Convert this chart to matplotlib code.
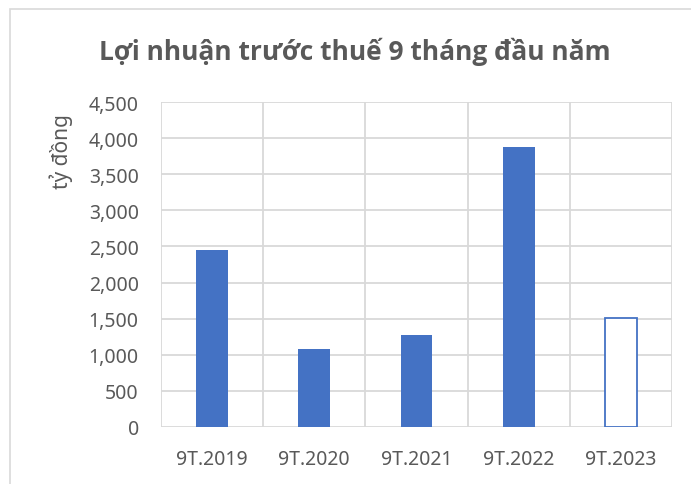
import matplotlib
matplotlib.use('Agg')
import matplotlib.pyplot as plt
from matplotlib.patches import Rectangle
from matplotlib.ticker import FuncFormatter, MultipleLocator

categories = ['9T.2019', '9T.2020', '9T.2021', '9T.2022', '9T.2023']
profit = [2455, 1080, 1278, 3880, 1509]
filled = [True, True, True, True, False]

title = 'Lợi nhuận trước thuế 9 tháng đầu năm'
ylabel = 'tỷ đồng'

plt.rcParams['font.family'] = ['Noto Sans', 'DejaVu Sans']
text_grey = '#595959'
grid_grey = '#d9d9d9'
blue = '#4472C4'

fig = plt.figure(figsize=(6.91, 4.85), dpi=100)
# chart frame (left and top edges visible, the rest runs off the picture)
fig.patches.append(Rectangle((10 / 691, -0.1), 1.2, (475 / 485) + 0.1,
                             transform=fig.transFigure, fill=False,
                             ec=grid_grey, lw=1.2))

ax = fig.add_axes([161 / 691, 57 / 485, 511 / 691, 325 / 485])
x = list(range(len(categories)))
for xi, v, f in zip(x, profit, filled):
    if f:
        ax.bar(xi, v, width=0.31, color=blue, zorder=3)
    else:
        ax.bar(xi, v, width=0.31, facecolor='white', edgecolor=blue,
               lw=1.3, zorder=3)

ax.set_xlim(-0.5, len(categories) - 0.5)
ax.set_ylim(0, 4500)
ax.yaxis.set_major_locator(MultipleLocator(500))
ax.yaxis.set_major_formatter(FuncFormatter(lambda v, p: f'{int(v):,}'))
ax.set_xticks(x)
ax.set_xticklabels(categories)
ax.set_xticks([i - 0.5 for i in range(len(categories) + 1)], minor=True)

ax.grid(axis='y', which='major', color=grid_grey, lw=1.3, zorder=0)
ax.grid(axis='x', which='minor', color=grid_grey, lw=1.3, zorder=0)
for s in ax.spines.values():
    s.set_visible(False)
ax.tick_params(which='both', length=0)
ax.tick_params(axis='y', labelsize=14, labelcolor=text_grey, pad=16)
ax.tick_params(axis='x', labelsize=14, labelcolor=text_grey, pad=16)

ax.set_ylabel(ylabel, fontsize=15, color=text_grey)
ax.yaxis.set_label_coords(-0.172, 0.85)

fig.text(355 / 691, 1 - 52 / 485, title, ha='center', va='center',
         fontsize=19, fontweight='bold', color=text_grey,
         family=['Open Sans', 'DejaVu Sans'])

fig.savefig('out.png', dpi=100)
